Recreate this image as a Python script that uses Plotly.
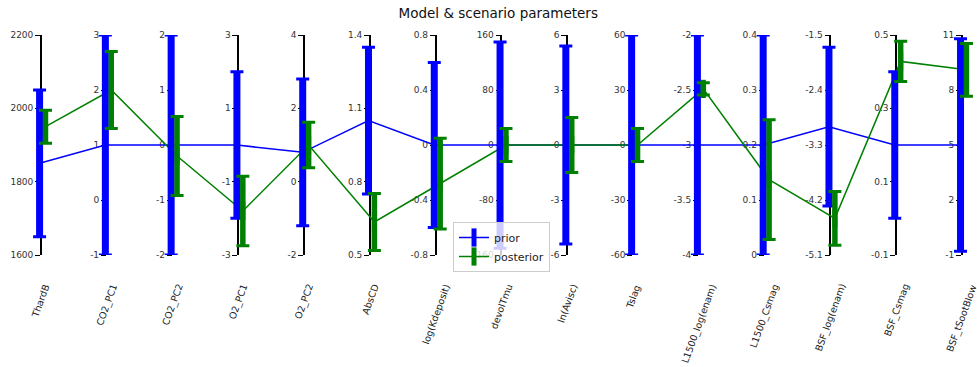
import plotly.graph_objects as go

params = ["ThardB", "CO2_PC1", "CO2_PC2", "O2_PC1", "O2_PC2", "AbsCD",
          "log(Kdeposit)", "devolTmu", "ln(Avisc)", "Tslag", "L1500_log(enam)",
          "L1500_Csmag", "BSF_log(enam)", "BSF_Csmag", "BSF_tSootBlow"]

axis_lo = [1600, -1, -2, -3, -2, 0.5, -0.8, -160, -6, -60, -4, 0, -5.1, -0.1, -1]
axis_hi = [2200, 3, 2, 3, 4, 1.4, 0.8, 160, 6, 60, -2, 0.4, -1.5, 0.5, 11]

axis_ticks = [
    [1600, 1800, 2000, 2200],
    [-1, 0, 1, 2, 3],
    [-2, -1, 0, 1, 2],
    [-3, -1, 1, 3],
    [-2, 0, 2, 4],
    [0.5, 0.8, 1.1, 1.4],
    [-0.8, -0.4, 0, 0.4, 0.8],
    [-160, -80, 0, 80, 160],
    [-6, -3, 0, 3, 6],
    [-60, -30, 0, 30, 60],
    [-4, -3.5, -3, -2.5, -2],
    [0, 0.1, 0.2, 0.3, 0.4],
    [-5.1, -4.2, -3.3, -2.4, -1.5],
    [-0.1, 0.1, 0.3, 0.5],
    [-1, 2, 5, 8, 11],
]

prior_mean = [1850, 1, 0, 0, 0.8, 1.05, 0, 0, 0, 0, -3, 0.2, -3.0, 0.2, 5]
prior_err = [200, 2, 2, 2, 2, 0.3, 0.6, 150, 5.4, 60, 1, 0.2, 1.3, 0.2, 5.8]
post_mean = [1950, 2.0, -0.2, -1.8, 1.0, 0.635, -0.28, 0, 0, 0, -2.49, 0.137, -4.5, 0.428, 9.1]
post_err = [45, 0.7, 0.72, 0.95, 0.62, 0.117, 0.33, 24, 1.5, 9, 0.055, 0.109, 0.44, 0.055, 1.44]

BLUE = "#0000ff"
GREEN = "#008000"
X_MIN, X_MAX = -0.5, 14.2
OFF_PRIOR, OFF_POST = -0.02, 0.07

n = len(params)
xs = list(range(n))

fig = go.Figure()

# connecting lines on a normalised (0..1) hidden axis
def norm(vals):
    return [(v - lo) / (hi - lo) for v, lo, hi in zip(vals, axis_lo, axis_hi)]

fig.add_trace(go.Scatter(
    x=[x + OFF_PRIOR for x in xs], y=norm(prior_mean), mode="lines+markers",
    line=dict(color=BLUE, width=1.5), name="prior",
    marker=dict(symbol="line-ns", size=13, line=dict(color=BLUE, width=5)),
    xaxis="x", yaxis="y", hoverinfo="skip"))
fig.add_trace(go.Scatter(
    x=[x + OFF_POST for x in xs], y=norm(post_mean), mode="lines+markers",
    line=dict(color=GREEN, width=1.5), name="posterior",
    marker=dict(symbol="line-ns", size=13, line=dict(color=GREEN, width=5)),
    xaxis="x", yaxis="y", hoverinfo="skip"))

def bar_traces(x, m, e, color, stem, ax):
    t1 = go.Scatter(x=[x], y=[m], mode="markers",
                    marker=dict(size=1, color="rgba(0,0,0,0)"),
                    error_y=dict(type="data", array=[e], color=color,
                                 thickness=stem, width=0),
                    showlegend=False, hoverinfo="skip", yaxis=ax)
    t2 = go.Scatter(x=[x], y=[m], mode="markers",
                    marker=dict(size=1, color="rgba(0,0,0,0)"),
                    error_y=dict(type="data", array=[e], color=color,
                                 thickness=3, width=6.5),
                    showlegend=False, hoverinfo="skip", yaxis=ax)
    return [t1, t2]

layout_axes = {}
for i in range(n):
    ax = "y%d" % (i + 2)
    for t in bar_traces(i + OFF_PRIOR, prior_mean[i], prior_err[i], BLUE, 7, ax):
        fig.add_trace(t)
    for t in bar_traces(i + OFF_POST, post_mean[i], post_err[i], GREEN, 5.5, ax):
        fig.add_trace(t)
    layout_axes["yaxis%d" % (i + 2)] = dict(
        overlaying="y", anchor="free", side="left",
        position=(i - X_MIN) / (X_MAX - X_MIN),
        range=[axis_lo[i], axis_hi[i]],
        tickvals=axis_ticks[i], ticktext=[str(v) for v in axis_ticks[i]],
        showline=True, linecolor="black", linewidth=1.5,
        ticks="outside", ticklen=5, tickwidth=1.2, tickcolor="black",
        tickfont=dict(family="DejaVu Sans", size=9, color="#333"),
        showgrid=False, zeroline=False, automargin=False, fixedrange=True,
        layer="below traces",
    )

annotations = []
for i, p in enumerate(params):
    annotations.append(dict(
        x=i, y=0, xref="x", yref="paper", text=p, showarrow=False,
        textangle=-70, xanchor="center", yanchor="top", yshift=-25,
        font=dict(family="DejaVu Sans", size=9.5, color="#222")))

fig.update_layout(
    width=977, height=367,
    template="none",
    paper_bgcolor="white", plot_bgcolor="white",
    margin=dict(l=8, r=2, t=35, b=112),
    title=dict(text="Model & scenario parameters", x=0.507, xref="paper",
               y=1 - 13 / 367, yref="container", xanchor="center", yanchor="middle",
               font=dict(family="DejaVu Sans", size=13.5, color="#111")),
    xaxis=dict(range=[X_MIN, X_MAX], visible=False, fixedrange=True),
    yaxis=dict(range=[0, 1], visible=False, fixedrange=True),
    showlegend=True,
    legend=dict(x=(453 - 8) / 967, y=(255 - 222) / 220, xanchor="left", yanchor="top",
                bgcolor="rgba(255,255,255,0.8)", bordercolor="#cccccc", borderwidth=1,
                font=dict(family="DejaVu Sans", size=11, color="#222"),
                itemwidth=30, tracegroupgap=0),
    annotations=annotations,
    **layout_axes,
)

fig.write_html("out.html", config={"displayModeBar": False},
               post_script="document.body.style.margin='0';document.body.style.overflow='hidden';")
